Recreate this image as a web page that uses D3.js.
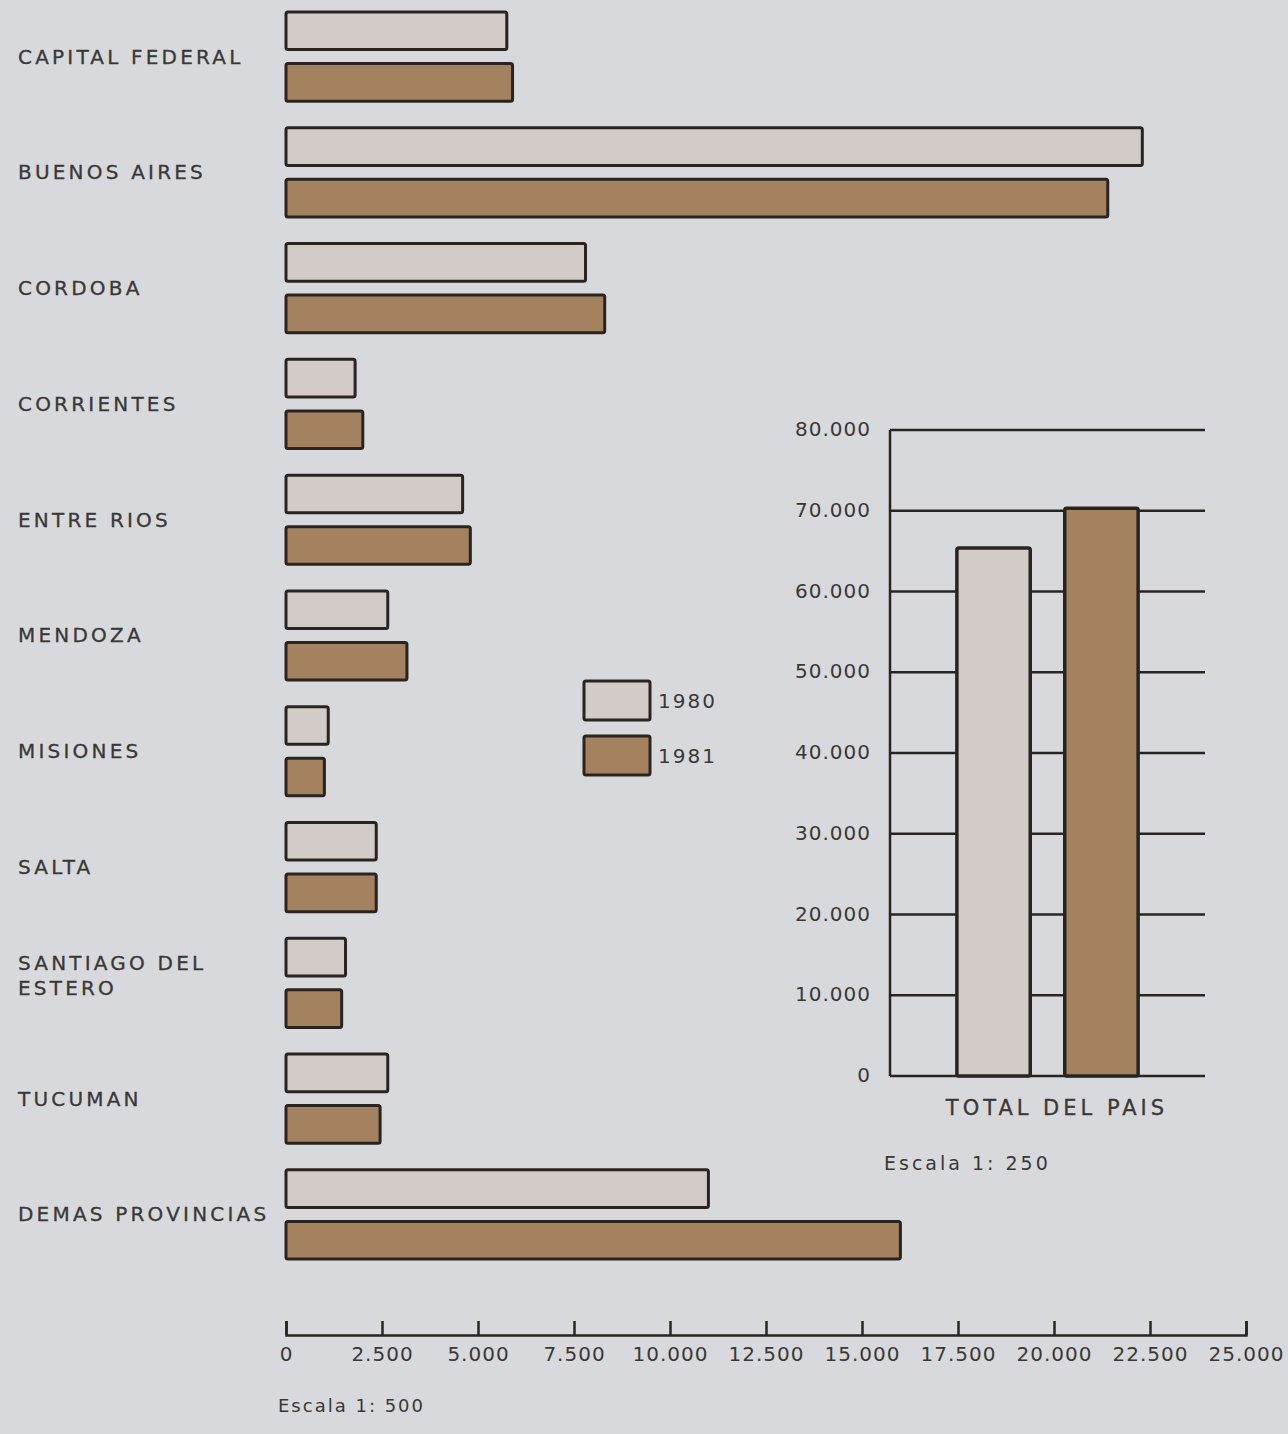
<!DOCTYPE html>
<html>
<head>
<meta charset="utf-8">
<script src="https://cdn.jsdelivr.net/npm/d3@7"></script>
<style>
  body { margin: 0; background: #d8d9dc; }
  svg { display: block; }
  text { font-family: "DejaVu Sans", sans-serif; fill: #3a3835; }
</style>
</head>
<body>
<svg id="chart" width="1288" height="1434"></svg>
<script>
// values
var provinces = ["CAPITAL FEDERAL", "BUENOS AIRES", "CORDOBA", "CORRIENTES", "ENTRE RIOS",
  "MENDOZA", "MISIONES", "SALTA", "SANTIAGO DEL ESTERO", "TUCUMAN", "DEMAS PROVINCIAS"];
var years = ["1980", "1981"];
var values1980 = [5750, 22300, 7800, 1800, 4600, 2650, 1100, 2350, 1550, 2650, 11000];
var values1981 = [5900, 21400, 8300, 2000, 4800, 3150, 1000, 2350, 1450, 2450, 16000];
var totals = [65400, 70300];
var xTicks = [0, 2500, 5000, 7500, 10000, 12500, 15000, 17500, 20000, 22500, 25000];
var yTicks = [0, 10000, 20000, 30000, 40000, 50000, 60000, 70000, 80000];

var colours = { "1980": "#d3cbc8", "1981": "#a4825f" };
var stroke = "#2a2421";

var locale = d3.formatLocale({ decimal: ",", thousands: ".", grouping: [3], currency: ["$", ""] });
var fmt = locale.format(",");

var svg = d3.select("#chart");

// ---- left chart: provinces, escala 1:500
var x = d3.scaleLinear().domain([0, 25000]).range([286, 1246]);
var y0 = d3.scaleBand().domain(provinces).range([12, 1259]).paddingInner(0.23);
var y1 = d3.scaleBand().domain(years).range([0, y0.bandwidth()]).paddingInner(0.27);

var rows = provinces.map((p, i) => ({ province: p, values: [
  { year: "1980", value: values1980[i] },
  { year: "1981", value: values1981[i] }] }));

var groups = svg.append("g")
  .selectAll("g")
  .data(rows)
  .join("g")
    .attr("transform", d => `translate(0,${y0(d.province)})`);

groups.selectAll("rect")
  .data(d => d.values)
  .join("rect")
    .attr("x", x(0))
    .attr("y", d => y1(d.year))
    .attr("width", d => x(d.value) - x(0))
    .attr("height", y1.bandwidth())
    .attr("rx", 2)
    .attr("fill", d => colours[d.year])
    .attr("stroke", stroke)
    .attr("stroke-width", 3);

// province labels, santiago del estero wraps onto two lines
groups.append("text")
  .attr("x", 18)
  .attr("font-size", 20)
  .attr("letter-spacing", 3.2)
  .attr("stroke", "#3a3835")
  .attr("stroke-width", 0.3)
  .each(function(d) {
    var lines = d.province == "SANTIAGO DEL ESTERO" ? ["SANTIAGO DEL", "ESTERO"] : [d.province];
    var mid = y0.bandwidth() / 2 - (lines.length - 1) * 20;
    d3.select(this).selectAll("tspan")
      .data(lines)
      .join("tspan")
        .attr("x", 18)
        .attr("y", (l, i) => mid + i * 25)
        .attr("dy", "0.35em")
        .text(l => l);
  });

var xAxis = svg.append("g")
  .attr("transform", "translate(0,1335)")
  .call(d3.axisBottom(x)
    .tickValues(xTicks)
    .tickFormat(d => fmt(d))
    .tickSizeInner(-14)
    .tickSizeOuter(-14)
    .tickPadding(12));
xAxis.selectAll("path, line").attr("stroke", stroke).attr("stroke-width", 2.5);
xAxis.selectAll("text")
  .attr("font-family", "DejaVu Sans, sans-serif")
  .attr("font-size", 20)
  .attr("letter-spacing", 1)
  .attr("fill", "#3a3835");

svg.append("text")
  .attr("x", 278)
  .attr("y", 1412)
  .attr("font-size", 18)
  .attr("letter-spacing", 2)
  .text("Escala 1: 500");

// ---- legend
var legend = svg.append("g")
  .selectAll("g")
  .data(years)
  .join("g")
    .attr("transform", (d, i) => `translate(584,${681 + i * 55})`);
legend.append("rect")
  .attr("width", 66)
  .attr("height", 39)
  .attr("rx", 2)
  .attr("fill", d => colours[d])
  .attr("stroke", stroke)
  .attr("stroke-width", 3);
legend.append("text")
  .attr("x", 74)
  .attr("y", 27)
  .attr("font-size", 20)
  .attr("letter-spacing", 2)
  .text(d => d);

// ---- right chart: total del pais, escala 1:250
var yT = d3.scaleLinear().domain([0, 80000]).range([1076, 430]);
var xT = d3.scaleBand().domain(years).range([890, 1205]).paddingInner(0.32).paddingOuter(0.62);

var right = svg.append("g");

right.append("g")
  .selectAll("line")
  .data(yTicks)
  .join("line")
    .attr("x1", 890)
    .attr("x2", 1205)
    .attr("y1", d => yT(d))
    .attr("y2", d => yT(d))
    .attr("stroke", stroke)
    .attr("stroke-width", 2.5);

right.append("line")
  .attr("x1", 890).attr("x2", 890)
  .attr("y1", yT(80000)).attr("y2", yT(0))
  .attr("stroke", stroke)
  .attr("stroke-width", 2.5);

right.append("g")
  .selectAll("text")
  .data(yTicks)
  .join("text")
    .attr("x", 871)
    .attr("y", d => yT(d) - 1)
    .attr("dy", "0.35em")
    .attr("text-anchor", "end")
    .attr("font-size", 20)
    .attr("letter-spacing", 1)
    .text(d => fmt(d));

right.append("g")
  .selectAll("rect")
  .data(years.map((yr, i) => ({ year: yr, value: totals[i] })))
  .join("rect")
    .attr("x", d => xT(d.year))
    .attr("y", d => yT(d.value))
    .attr("width", xT.bandwidth())
    .attr("height", d => yT(0) - yT(d.value))
    .attr("rx", 2)
    .attr("fill", d => colours[d.year])
    .attr("stroke", stroke)
    .attr("stroke-width", 3.5);

right.append("text")
  .attr("x", 1057)
  .attr("y", 1115)
  .attr("text-anchor", "middle")
  .attr("font-size", 21)
  .attr("letter-spacing", 4)
  .attr("stroke", "#3a3835")
  .attr("stroke-width", 0.3)
  .text("TOTAL DEL PAIS");

right.append("text")
  .attr("x", 884)
  .attr("y", 1170)
  .attr("font-size", 19)
  .attr("letter-spacing", 3)
  .text("Escala 1: 250");
</script>
</body>
</html>
